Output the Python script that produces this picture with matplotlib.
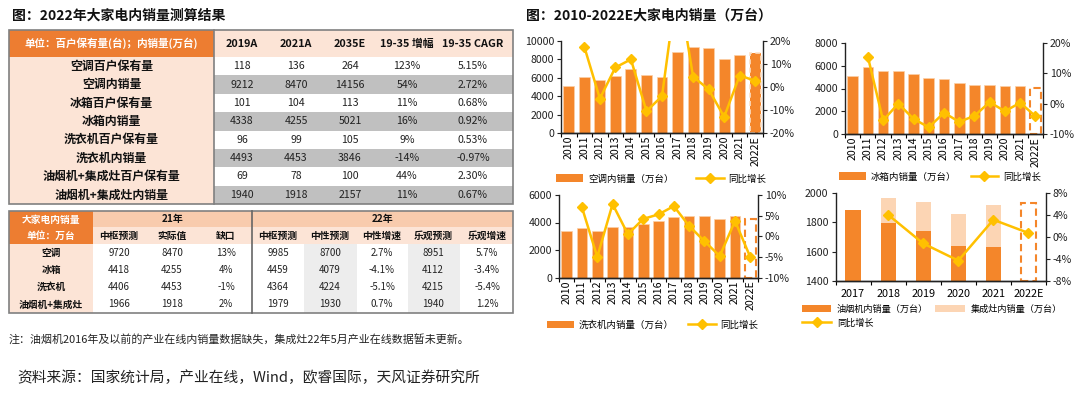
import matplotlib
matplotlib.use("Agg")
import matplotlib.pyplot as plt
from matplotlib.patches import Rectangle, Patch
from matplotlib.lines import Line2D
import numpy as np

plt.rcParams['font.family'] = ['Noto Sans CJK SC', 'DejaVu Sans']
plt.rcParams['axes.unicode_minus'] = False

W, H = 1080, 394

# ---------------- data ----------------
t1_header = '单位：百户保有量(台)；内销量(万台)'
t1_cols = ['2019A', '2021A', '2035E', '19-35 增幅', '19-35 CAGR']
t1_rows = ['空调百户保有量', '空调内销量', '冰箱百户保有量', '冰箱内销量',
           '洗衣机百户保有量', '洗衣机内销量', '油烟机+集成灶百户保有量', '油烟机+集成灶内销量']
t1_2019 = [118, 9212, 101, 4338, 96, 4493, 69, 1940]
t1_2021 = [136, 8470, 104, 4255, 99, 4453, 78, 1918]
t1_2035 = [264, 14156, 113, 5021, 105, 3846, 100, 2157]
t1_inc = ['123%', '54%', '11%', '16%', '9%', '-14%', '44%', '11%']
t1_cagr = ['5.15%', '2.72%', '0.68%', '0.92%', '0.53%', '-0.97%', '2.30%', '0.67%']

t2_rows = ['空调', '冰箱', '洗衣机', '油烟机+集成灶']
t2_groups = ['21年', '22年']
t2_cols = ['中枢预测', '实际值', '缺口', '中枢预测', '中性预测', '中性增速', '乐观预测', '乐观增速']
t2_21_base = [9720, 4418, 4406, 1966]
t2_21_actual = [8470, 4255, 4453, 1918]
t2_21_gap = ['13%', '4%', '-1%', '2%']
t2_22_base = [9985, 4459, 4364, 1979]
t2_22_neutral = [8700, 4079, 4224, 1930]
t2_22_neutral_g = ['2.7%', '-4.1%', '-5.1%', '0.7%']
t2_22_opt = [8951, 4112, 4215, 1940]
t2_22_opt_g = ['5.7%', '-3.4%', '-5.4%', '1.2%']

years = ['2010', '2011', '2012', '2013', '2014', '2015', '2016', '2017', '2018', '2019', '2020', '2021', '2022E']
ac_sales = [5150, 6050, 5750, 6200, 6950, 6250, 6050, 8850, 9300, 9212, 8000, 8470, 8700]
ac_yoy = [np.nan, 17.5, -5.0, 8.5, 12.0, -10.5, -4.0, 46.0, 4.5, -1.0, -13.0, 5.0, 2.7]
fr_sales = [5100, 5900, 5550, 5550, 5300, 4900, 4800, 4450, 4280, 4338, 4200, 4255, 4079]
fr_yoy = [np.nan, 15.5, -5.5, 0.0, -5.0, -7.8, -3.0, -6.0, -4.0, 0.5, -2.5, 0.3, -4.1]
wm_sales = [3350, 3600, 3400, 3700, 3700, 3900, 4100, 4400, 4500, 4493, 4250, 4453, 4224]
wm_yoy = [np.nan, 7.0, -5.0, 7.8, 0.5, 4.2, 5.3, 7.3, 2.5, -1.2, -4.8, 3.7, -5.1]

k_years = ['2017', '2018', '2019', '2020', '2021', '2022E']
k_hood = [1885, 1795, 1740, 1638, 1633, np.nan]
k_stove = [0, 170, 200, 217, 282, np.nan]
k_total_22 = 1930
k_yoy = [np.nan, 4.0, -1.2, -4.3, 3.1, 0.7]

ORANGE = '#F4862A'
DARK_OR = '#ED7D31'
PEACH = '#FCE4D6'
PEACH2 = '#F8CBAD'
LIGHT = '#FCD5B4'
GOLD = '#FFC000'
TXT = '#222222'

fig = plt.figure(figsize=(W / 100, H / 100), dpi=100)
bg = fig.add_axes([0, 0, 1, 1])
bg.set_xlim(0, W)
bg.set_ylim(H, 0)
bg.axis('off')


def box(x0, y0, x1, y1, fc, ec='none', lw=0, z=1):
    bg.add_patch(Rectangle((x0, y0), x1 - x0, y1 - y0, facecolor=fc, edgecolor=ec, linewidth=lw, zorder=z))


# ---------------- titles & notes ----------------
bg.text(12, 16, '图：2022年大家电内销量测算结果', fontsize=10, fontweight='bold', va='center', ha='left', color='#111111')
bg.text(526, 16, '图：2010-2022E大家电内销量（万台）', fontsize=10, fontweight='bold', va='center', ha='left', color='#111111')
bg.text(9, 339, '注：油烟机2016年及以前的产业在线内销量数据缺失，集成灶22年5月产业在线数据暂未更新。',
        fontsize=7.9, va='center', ha='left', color=TXT)
bg.text(17, 378, '资料来源：国家统计局，产业在线，Wind，欧睿国际，天风证券研究所',
        fontsize=10.6, va='center', ha='left', color=TXT)

# ---------------- table 1 ----------------
L, R, T, HB, B = 9, 513, 30, 57, 204
LC = 214
rh = (B - HB) / len(t1_rows)
box(L, T, LC, HB, DARK_OR)
box(LC, T, R, HB, PEACH)
bg.text((L + LC) / 2, (T + HB) / 2, t1_header, fontsize=7.6, fontweight='bold', color='white', ha='center', va='center')
c1x = [242, 296, 350, 407, 473]
for cx, name in zip(c1x, t1_cols):
    bg.text(cx, (T + HB) / 2, name, fontsize=7.8, fontweight='bold', color='#111111', ha='center', va='center')
for i, name in enumerate(t1_rows):
    y0 = HB + i * rh
    box(L, y0, LC, y0 + rh, PEACH)
    box(LC, y0, R, y0 + rh, '#C0C0C0' if i % 2 == 1 else 'white')
    yc = y0 + rh / 2
    bg.text((L + LC) / 2, yc, name, fontsize=8.6, fontweight='bold', color='#111111', ha='center', va='center')
    vals = [str(t1_2019[i]), str(t1_2021[i]), str(t1_2035[i]), t1_inc[i], t1_cagr[i]]
    for cx, v in zip(c1x, vals):
        bg.text(cx, yc, v, fontsize=7.6, color=TXT, ha='center', va='center')
bg.add_patch(Rectangle((L, T), R - L, B - T, facecolor='none', edgecolor='#808080', linewidth=1.2, zorder=3))
bg.plot([LC, LC], [T, B], color='#808080', lw=1.2, zorder=3)

# ---------------- table 2 ----------------
L2, R2, T2, M2, H2, B2 = 9, 513, 211, 227, 244, 313
LC2, DIV = 93, 252
rh2 = (B2 - H2) / len(t2_rows)
box(L2, T2, LC2, H2, DARK_OR)
box(LC2, T2, R2, M2, PEACH2)
box(LC2, M2, R2, H2, PEACH)
bg.text((L2 + LC2) / 2, (T2 + M2) / 2 + 0.5, '大家电内销量', fontsize=7, fontweight='bold', color='white', ha='center', va='center')
bg.text((L2 + LC2) / 2, (M2 + H2) / 2, '单位：万台', fontsize=7, fontweight='bold', color='white', ha='center', va='center')
bg.text((LC2 + DIV) / 2, (T2 + M2) / 2, t2_groups[0], fontsize=7.2, fontweight='bold', color='#111111', ha='center', va='center')
bg.text((DIV + R2) / 2, (T2 + M2) / 2, t2_groups[1], fontsize=7.2, fontweight='bold', color='#111111', ha='center', va='center')
c2x = [119, 172, 226, 278, 330, 382, 433, 487]
for cx, name in zip(c2x, t2_cols):
    bg.text(cx, (M2 + H2) / 2, name, fontsize=7, fontweight='bold', color='#111111', ha='center', va='center')
box(LC2, H2, R2, B2, 'white')
box(304, H2, 357, B2, '#EDEDED')
box(408, H2, 460, B2, '#EDEDED')
for i, name in enumerate(t2_rows):
    y0 = H2 + i * rh2
    box(L2, y0, LC2, y0 + rh2, PEACH)
    yc = y0 + rh2 / 2
    bg.text((L2 + LC2) / 2, yc, name, fontsize=7, fontweight='bold', color='#111111', ha='center', va='center')
    vals = [str(t2_21_base[i]), str(t2_21_actual[i]), t2_21_gap[i], str(t2_22_base[i]),
            str(t2_22_neutral[i]), t2_22_neutral_g[i], str(t2_22_opt[i]), t2_22_opt_g[i]]
    for cx, v in zip(c2x, vals):
        bg.text(cx, yc, v, fontsize=7, color=TXT, ha='center', va='center')
bg.add_patch(Rectangle((L2, T2), R2 - L2, B2 - T2, facecolor='none', edgecolor='#808080', linewidth=1.2, zorder=3))
bg.plot([DIV, DIV], [T2, B2], color='#666666', lw=1.2, zorder=3)


# ---------------- charts ----------------
def frac(l, t, r, b):
    return [l / W, 1 - b / H, (r - l) / W, (b - t) / H]


def pct_labels(vals):
    return ['%d%%' % v for v in vals]


def style(ax, ax2, n, rotate=True):
    ax.spines['top'].set_visible(False)
    ax2.spines['top'].set_visible(False)
    ax2.spines['left'].set_visible(False)
    ax.spines['right'].set_visible(False)
    for a in (ax, ax2):
        for s in a.spines.values():
            s.set_linewidth(1.0)
            s.set_color('#222222')
    ax.set_xlim(-0.5, n - 0.5)
    ax.set_xticks(np.arange(-0.5, n, 1.0))
    ax.set_xticklabels([])
    ax.tick_params(axis='x', which='major', length=3, width=0.8, direction='out')
    ax.set_xticks(np.arange(n), minor=True)
    ax.tick_params(axis='x', which='minor', length=0, labelsize=7.6, pad=2,
                   labelrotation=90 if rotate else 0)
    ax.tick_params(axis='y', length=3, width=0.8, labelsize=7.6, pad=2, colors='#222222')
    ax2.tick_params(axis='y', length=3, width=0.8, labelsize=7.6, pad=2, colors='#222222')


LEG_FS = 6.8


def monthly_chart(rect, sales, yoy, ylim, yticks, rlim, rticks, dashed_fill, leg_label, leg_y, leg_x, colsp):
    ax = fig.add_axes(frac(*rect))
    ax2 = ax.twinx()
    n = len(years)
    x = np.arange(n)
    ax.bar(x[:-1], sales[:-1], width=0.7, color=ORANGE, edgecolor='#FBD0A8', linewidth=0.5, zorder=2)
    if dashed_fill:
        ax.bar(x[-1:], sales[-1:], width=0.7, color=ORANGE, edgecolor='#FCE0C6', linewidth=1.2,
               linestyle=(0, (3, 2)), zorder=2)
    else:
        ax.bar(x[-1:], sales[-1:], width=0.7, color='none', edgecolor=ORANGE, linewidth=1.5,
               linestyle=(0, (3.5, 2)), zorder=2)
    ax.set_ylim(*ylim)
    ax.set_yticks(yticks)
    ax.set_yticklabels([str(v) for v in yticks])
    ax2.plot(x, yoy, color=GOLD, lw=1.8, marker='D', markersize=5, markerfacecolor=GOLD,
             markeredgecolor=GOLD, zorder=3)
    ax2.set_ylim(*rlim)
    ax2.set_yticks(rticks)
    ax2.set_yticklabels(pct_labels(rticks))
    style(ax, ax2, n)
    ax.set_xticklabels(years, minor=True)
    handles = [Patch(facecolor=ORANGE, edgecolor='none'),
               Line2D([0], [0], color=GOLD, lw=1.8, marker='D', markersize=5)]
    fig.legend(handles, [leg_label, '同比增长'], loc='center left',
               bbox_to_anchor=(leg_x / W, 1 - leg_y / H), ncol=2, frameon=False,
               fontsize=LEG_FS, handlelength=2.9, handleheight=0.9, columnspacing=colsp, handletextpad=0.5,
               borderaxespad=0, borderpad=0)
    return ax, ax2


monthly_chart((561, 41, 763, 133), ac_sales, ac_yoy, (0, 10000), [0, 2000, 4000, 6000, 8000, 10000],
              (-20, 20), [-20, -10, 0, 10, 20], True, '空调内销量（万台）', 179, 556, 2.4)
monthly_chart((845, 43, 1043, 134), fr_sales, fr_yoy, (0, 8000), [0, 2000, 4000, 6000, 8000],
              (-10, 20), [-10, 0, 10, 20], False, '冰箱内销量（万台）', 177, 839, 1.5)
monthly_chart((559, 195, 758, 277.5), wm_sales, wm_yoy, (0, 6000), [0, 2000, 4000, 6000],
              (-10, 10), [-10, -5, 0, 5, 10], False, '洗衣机内销量（万台）', 325, 547, 1.5)

# kitchen chart
ax = fig.add_axes(frac(835.5, 192.7, 1046, 281))
ax2 = ax.twinx()
nk = len(k_years)
xk = np.arange(nk)
ax.bar(xk, k_hood, width=0.43, color=ORANGE, zorder=2)
ax.bar(xk, k_stove, width=0.43, bottom=k_hood, color=LIGHT, zorder=2)
ax.bar(xk[-1:], [k_total_22 - 1400], bottom=1400, width=0.43, color='none', edgecolor=ORANGE,
       linewidth=1.5, linestyle=(0, (3.5, 2)), zorder=2)
ax.set_ylim(1400, 2000)
ax.set_yticks([1400, 1600, 1800, 2000])
ax.set_yticklabels(['1400', '1600', '1800', '2000'])
ax2.plot(xk, k_yoy, color=GOLD, lw=1.8, marker='D', markersize=5, zorder=3)
ax2.set_ylim(-8, 8)
ax2.set_yticks([-8, -4, 0, 4, 8])
ax2.set_yticklabels(pct_labels([-8, -4, 0, 4, 8]))
style(ax, ax2, nk, rotate=False)
ax.set_xticklabels(k_years, minor=True)
ax.tick_params(axis='x', which='minor', labelsize=7.8, pad=6)
fig.legend([Patch(facecolor=ORANGE), Patch(facecolor=LIGHT)],
           ['油烟机内销量（万台）', '集成灶内销量（万台）'], loc='center left',
           bbox_to_anchor=(802 / W, 1 - 309 / H), ncol=2, frameon=False, fontsize=6.6,
           handlelength=3.2, handleheight=0.9, columnspacing=0.8, handletextpad=0.6,
           borderaxespad=0, borderpad=0)
fig.legend([Line2D([0], [0], color=GOLD, lw=1.8, marker='D', markersize=5)], ['同比增长'],
           loc='center left', bbox_to_anchor=(802 / W, 1 - 323 / H), frameon=False, fontsize=6.6,
           handlelength=3.2, handletextpad=0.6, borderaxespad=0, borderpad=0)

fig.savefig('out.png', dpi=100)
